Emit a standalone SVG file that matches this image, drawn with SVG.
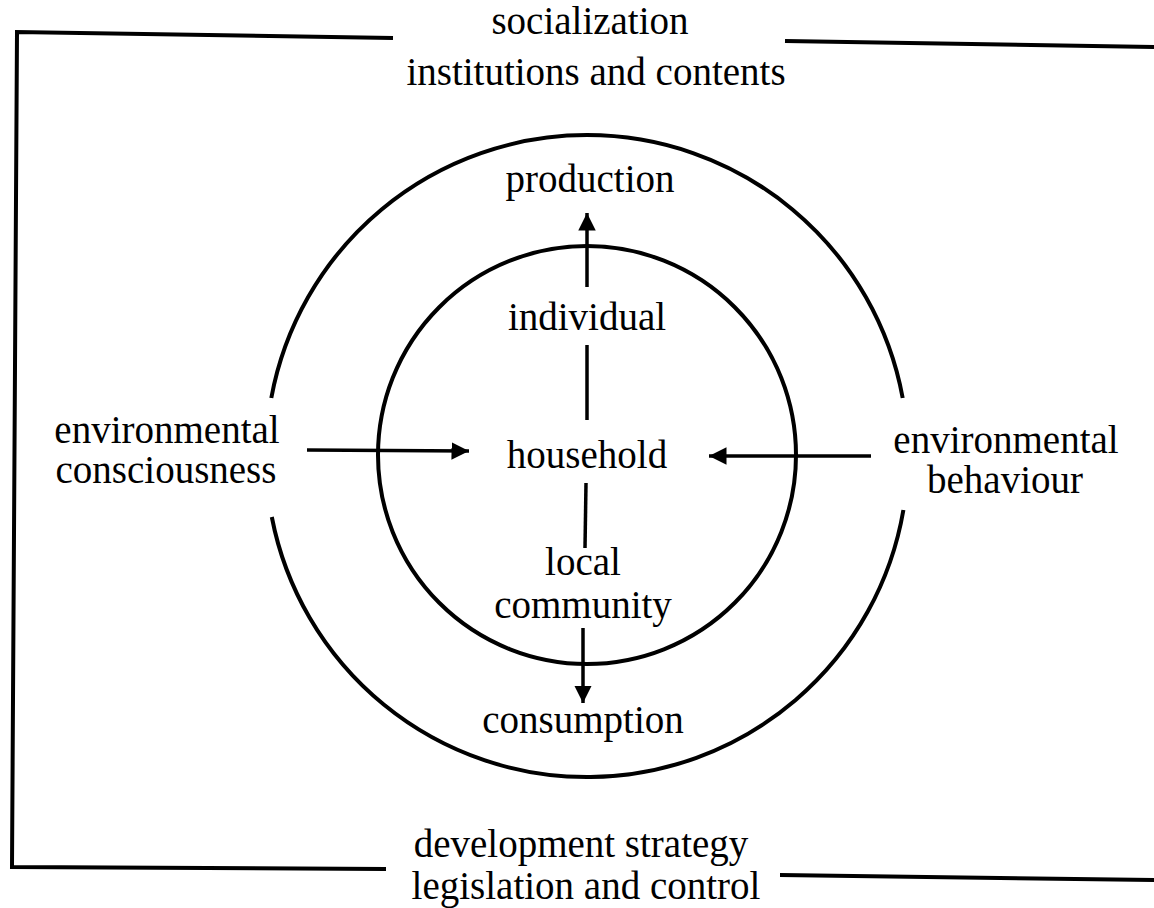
<svg xmlns="http://www.w3.org/2000/svg" width="1154" height="908" viewBox="0 0 1154 908">
  <style>
    .ln { fill: none; stroke: #000; stroke-width: 4; stroke-linecap: butt; stroke-linejoin: miter; }
    .ar { fill: none; stroke: #000; stroke-width: 3.5; }
    text { font-family: "Liberation Serif", "Times New Roman", serif; font-size: 39px; fill: #000; text-anchor: middle; }
  </style>
  <defs>
    <marker id="head" viewBox="0 0 10 10" refX="10" refY="5" markerWidth="5" markerHeight="5" orient="auto" markerUnits="strokeWidth">
      <path d="M0,0 L10,5 L0,10 Z" fill="#000"/>
    </marker>
  </defs>

  <rect width="1154" height="908" fill="#fff"/>

  <!-- outer frame -->
  <g id="frame">
    <polyline class="ln" points="393,38 17,32 12,867 386,869"/>
    <line class="ln" x1="785" y1="41" x2="1154" y2="47"/>
    <line class="ln" x1="780" y1="875" x2="1154" y2="880"/>
  </g>

  <!-- outer ring, open at left and right for the side labels -->
  <g id="outer-ring">
    <path class="ln" d="M271.3,398 A321,321 0 0 1 902.7,398"/>
    <path class="ln" d="M903.4,510 A321,321 0 0 1 271.8,517"/>
  </g>

  <!-- inner ring -->
  <g id="inner-ring">
    <circle class="ln" cx="587" cy="455" r="209"/>
  </g>

  <!-- connectors -->
  <g id="connectors">
    <line class="ar" x1="307" y1="450" x2="469" y2="451" marker-end="url(#head)"/>
    <line class="ar" x1="871" y1="456" x2="709" y2="456" marker-end="url(#head)"/>
    <line class="ar" x1="587" y1="287" x2="587" y2="213" marker-end="url(#head)"/>
    <line class="ar" x1="587" y1="345" x2="587" y2="420"/>
    <line class="ar" x1="586" y1="483" x2="585" y2="548"/>
    <line class="ar" x1="583" y1="628" x2="583" y2="703" marker-end="url(#head)"/>
  </g>

  <g id="socialization">
    <text x="590" y="34">socialization</text>
    <text x="596" y="85">institutions and contents</text>
  </g>
  <g id="development">
    <text x="581" y="857">development strategy</text>
    <text x="586" y="899">legislation and control</text>
  </g>
  <g id="consciousness">
    <text x="167" y="443">environmental</text>
    <text x="166" y="483">consciousness</text>
  </g>
  <g id="behaviour">
    <text x="1006" y="453">environmental</text>
    <text x="1005" y="493">behaviour</text>
  </g>
  <g id="production"><text x="590" y="192">production</text></g>
  <g id="individual"><text x="587" y="330">individual</text></g>
  <g id="household"><text x="587" y="468">household</text></g>
  <g id="local-community">
    <text x="583" y="575">local</text>
    <text x="583" y="618">community</text>
  </g>
  <g id="consumption"><text x="583" y="733">consumption</text></g>
</svg>
